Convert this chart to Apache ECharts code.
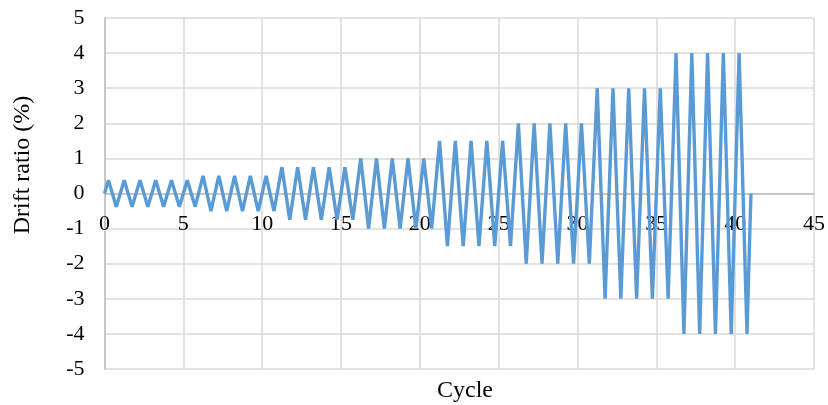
<!DOCTYPE html>
<html>
<head>
<meta charset="utf-8">
<script src="https://cdn.jsdelivr.net/npm/echarts@6/dist/echarts.min.js"></script>
<style>
html,body{margin:0;padding:0;background:#fff;}
#c{width:828px;height:405px;}
</style>
</head>
<body>
<div id="c"></div>
<script>
// Drift ratio amplitude (%) of each loading cycle (cycles 1..41)
var cycleAmplitudes = [
  0.375, 0.375, 0.375, 0.375, 0.375, 0.375,
  0.5, 0.5, 0.5, 0.5, 0.5,
  0.75, 0.75, 0.75, 0.75, 0.75,
  1, 1, 1, 1, 1,
  1.5, 1.5, 1.5, 1.5, 1.5,
  2, 2, 2, 2, 2,
  3, 3, 3, 3, 3,
  4, 4, 4, 4, 4
];
// Final return point of the history
var endCycle = 41;
var endDrift = 0;
var xTicks = [0, 5, 10, 15, 20, 25, 30, 35, 40, 45];
var yTicks = [-5, -4, -3, -2, -1, 0, 1, 2, 3, 4, 5];
var xTitle = 'Cycle';
var yTitle = 'Drift ratio (%)';

var points = [[0, 0]];
cycleAmplitudes.forEach(function (a, i) {
  points.push([i + 0.25, a]);
  points.push([i + 0.75, -a]);
});
points.push([endCycle, endDrift]);

var W = 828, H = 405;
var gridTop = 18, gridBottom = 36, gridLeft = 104.5, gridRight = 13.5;
var gridH = H - gridTop - gridBottom;

var serif = '"Liberation Serif", "DejaVu Serif", serif';
var chart = echarts.init(document.getElementById('c'), null, {renderer: 'canvas'});
chart.setOption({
  animation: false,
  backgroundColor: '#ffffff',
  grid: {left: gridLeft, right: gridRight, top: gridTop, bottom: gridBottom, containLabel: false},
  title: {
    text: xTitle,
    left: 460, top: 374,
    textAlign: 'center',
    textStyle: {fontFamily: serif, fontSize: 24, fontWeight: 'normal', color: '#000'}
  },
  graphic: [{
    type: 'text',
    x: 23, y: 165,
    rotation: Math.PI / 2,
    style: {
      text: yTitle,
      fontFamily: serif, fontSize: 24, fill: '#000',
      textAlign: 'center', textVerticalAlign: 'middle'
    }
  }],
  xAxis: {
    type: 'value',
    position: 'bottom',
    offset: -gridH / 2,
    min: xTicks[0], max: xTicks[xTicks.length - 1], interval: 5,
    axisLine: {onZero: false, lineStyle: {color: '#bfbfbf', width: 1.5}},
    axisTick: {show: false},
    axisLabel: {fontFamily: serif, fontSize: 22, color: '#000', margin: 20},
    splitLine: {show: true, lineStyle: {color: '#d9d9d9', width: 1.5}}
  },
  yAxis: {
    type: 'value',
    min: yTicks[0], max: yTicks[yTicks.length - 1], interval: 1,
    axisLine: {show: true, lineStyle: {color: '#bfbfbf', width: 1.5}},
    axisTick: {show: false},
    axisLabel: {fontFamily: serif, fontSize: 22, color: '#000', margin: 20},
    splitLine: {show: true, lineStyle: {color: '#d9d9d9', width: 1.5}}
  },
  series: [{
    type: 'line',
    data: points,
    showSymbol: false,
    symbol: 'none',
    lineStyle: {color: '#5B9BD5', width: 3.4},
    z: 3
  }]
});
</script>
</body>
</html>
